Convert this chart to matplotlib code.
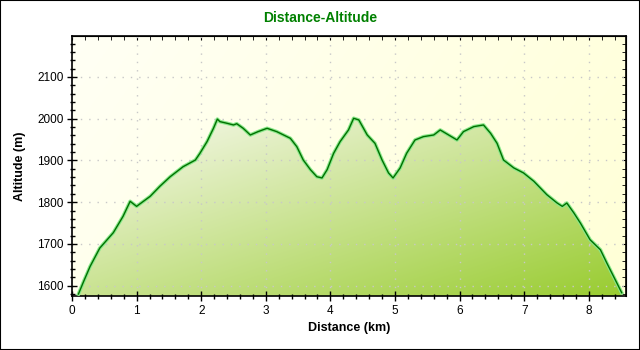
import numpy as np
import matplotlib.pyplot as plt
from matplotlib.ticker import MultipleLocator
from matplotlib.patches import Rectangle

plt.rcParams['font.family'] = ['Liberation Sans', 'DejaVu Sans']

# Track profile: distance (km) and altitude (m)
distance_km = [0.10, 0.18, 0.28, 0.43, 0.64, 0.79, 0.90, 1.00, 1.21, 1.36,
               1.52, 1.72, 1.91, 1.98, 2.09, 2.19, 2.25, 2.29, 2.40, 2.50,
               2.55, 2.65, 2.76, 2.88, 3.02, 3.17, 3.38, 3.48, 3.58, 3.69,
               3.79, 3.87, 3.95, 4.05, 4.15, 4.28, 4.36, 4.44, 4.57, 4.69,
               4.80, 4.90, 4.97, 5.08, 5.18, 5.31, 5.44, 5.60, 5.70, 5.83,
               5.96, 6.06, 6.22, 6.37, 6.48, 6.58, 6.68, 6.84, 6.99, 7.15,
               7.35, 7.51, 7.59, 7.66, 7.77, 7.87, 8.02, 8.18, 8.28, 8.41,
               8.51]
altitude_m = [1580, 1610, 1646, 1690, 1727, 1766, 1802, 1790, 1814, 1838,
              1861, 1885, 1901, 1917, 1945, 1977, 1999, 1993, 1989, 1985,
              1988, 1977, 1961, 1969, 1977, 1969, 1953, 1933, 1901, 1878,
              1861, 1858, 1878, 1917, 1945, 1973, 2001, 1997, 1961, 1941,
              1901, 1870, 1858, 1882, 1917, 1949, 1957, 1961, 1973, 1961,
              1949, 1969, 1981, 1985, 1965, 1941, 1901, 1882, 1870, 1850,
              1818, 1798, 1790, 1798, 1774, 1750, 1710, 1686, 1654, 1614,
              1583]

x = np.array(distance_km)
y = np.array(altitude_m)
xmin, xmax = 0, 8.58
ymin, ymax = 1575, 2198

fig = plt.figure(figsize=(6.4, 3.5), dpi=100)
ax = fig.add_axes([0.1125, 0.154, 0.866, 0.743])

# pale yellow background
gx, gy = np.meshgrid(np.linspace(0, 1, 200), np.linspace(1, 0, 100))
t = np.clip(0.75 * gx + 0.25 * (1 - gy), 0, 1)[..., None]
bg = (1 - t) * np.array([1.0, 1.0, 0.96]) + t * np.array([1.0, 1.0, 0.84])
ax.imshow(bg, extent=[xmin, xmax, ymin, ymax], aspect='auto', zorder=0)

# green gradient under the profile
fx, fy = np.meshgrid(np.linspace(0, 1, 300), np.linspace(1, 0, 200))
t = np.clip((fx + (1 - fy)) / 2, 0, 1)[..., None]
fill_img = (1 - t) * np.array([0.98, 0.98, 0.95]) + t * np.array([0.60, 0.80, 0.19])
fill = ax.fill_between(x, y, ymin, color='none', zorder=1)
im = ax.imshow(fill_img, extent=[x.min(), x.max(), ymin, y.max()],
               aspect='auto', zorder=1)
im.set_clip_path(fill.get_paths()[0], transform=ax.transData)
ax.set_xlim(xmin, xmax)
ax.set_ylim(ymin, ymax)

ax.plot(x, y, color='#8ae88a', lw=2.6, zorder=3, solid_joinstyle='round')
ax.plot(x, y, color='#007000', lw=1.0, zorder=4)

ax.grid(True, which='major', color='#c8c8c8', linestyle=(0, (1, 5)), lw=1)
for gl in ax.get_xgridlines() + ax.get_ygridlines():
    gl.set_zorder(0.5)

ax.xaxis.set_major_locator(MultipleLocator(1))
ax.xaxis.set_minor_locator(MultipleLocator(0.2))
ax.yaxis.set_major_locator(MultipleLocator(100))
ax.yaxis.set_minor_locator(MultipleLocator(20))
ax.tick_params(which='major', direction='inout', length=6.5, width=1,
               labelsize=8.5, pad=3)
ax.tick_params(which='minor', direction='inout', length=3.6, width=1)

top = ax.secondary_xaxis('top')
top.xaxis.set_major_locator(MultipleLocator(1))
top.xaxis.set_minor_locator(MultipleLocator(0.2))
top.tick_params(which='both', direction='in', length=3, labeltop=False)
right = ax.secondary_yaxis('right')
right.yaxis.set_major_locator(MultipleLocator(100))
right.yaxis.set_minor_locator(MultipleLocator(20))
right.tick_params(which='both', direction='in', length=3, labelright=False)

for s in ax.spines.values():
    s.set_linewidth(1.2)

ax.set_xlabel('Distance (km)', fontsize=9, fontweight='bold', labelpad=4)
ax.set_ylabel('Altitude (m)', fontsize=9, fontweight='bold', labelpad=8)
fig.text(0.5, 0.948, 'Distance-Altitude', ha='center', va='center',
         fontsize=10, fontweight='bold', color='#008000')

fig.patches.append(Rectangle((0, 0), 1, 1, transform=fig.transFigure,
                             fill=False, edgecolor='black', lw=1.5))

fig.savefig('out.png', dpi=100)
